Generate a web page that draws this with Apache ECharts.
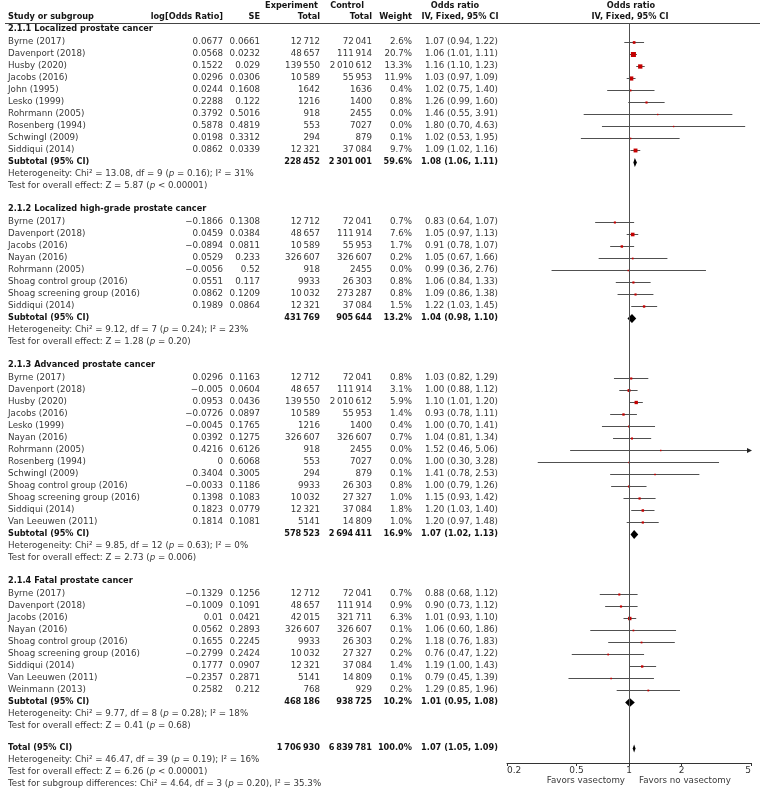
<!DOCTYPE html>
<html><head><meta charset="utf-8">
<script src="https://cdn.jsdelivr.net/npm/echarts@6/dist/echarts.min.js"></script>
<style>html,body{margin:0;padding:0;background:#fff}#c{width:761px;height:794px}</style>
</head><body><div id="c"></div>
<script>
// ---------------- DATA ----------------
const xTicks = [0.2, 0.5, 1, 2, 5];
const favorLabels = ['Favors vasectomy', 'Favors no vasectomy'];
const headerTop = ['Experiment', 'Control', 'Odds ratio', 'Odds ratio'];
const headerBottom = ['Study or subgroup', 'log[Odds Ratio]', 'SE', 'Total', 'Total', 'Weight', 'IV, Fixed, 95% CI', 'IV, Fixed, 95% CI'];

const sec1Title = '2.1.1 Localized prostate cancer';
const sec1Study = ['Byrne (2017)', 'Davenport (2018)', 'Husby (2020)', 'Jacobs (2016)', 'John (1995)', 'Lesko (1999)', 'Rohrmann (2005)', 'Rosenberg (1994)', 'Schwingl (2009)', 'Siddiqui (2014)'];
const sec1LogOR = [0.0677, 0.0568, 0.1522, 0.0296, 0.0244, 0.2288, 0.3792, 0.5878, 0.0198, 0.0862];
const sec1SE = [0.0661, 0.0232, 0.029, 0.0306, 0.1608, 0.122, 0.5016, 0.4819, 0.3312, 0.0339];
const sec1Exp = [12712, 48657, 139550, 10589, 1642, 1216, 918, 553, 294, 12321];
const sec1Ctl = [72041, 111914, 2010612, 55953, 1636, 1400, 2455, 7027, 879, 37084];
const sec1Weight = [2.6, 20.7, 13.3, 11.9, 0.4, 0.8, 0.0, 0.0, 0.1, 9.7];
const sec1OR = [1.07, 1.06, 1.16, 1.03, 1.02, 1.26, 1.46, 1.80, 1.02, 1.09];
const sec1Lower = [0.94, 1.01, 1.10, 0.97, 0.75, 0.99, 0.55, 0.70, 0.53, 1.02];
const sec1Upper = [1.22, 1.11, 1.23, 1.09, 1.40, 1.60, 3.91, 4.63, 1.95, 1.16];
const sec1SubTotals = [228452, 2301001];
const sec1SubWeight = 59.6;
const sec1SubOR = [1.08, 1.06, 1.11];
const sec1Het = 'Heterogeneity: Chi² = 13.08, df = 9 ({i|p} = 0.16); I² = 31%';
const sec1Effect = 'Test for overall effect: Z = 5.87 ({i|p} < 0.00001)';

const sec2Title = '2.1.2 Localized high-grade prostate cancer';
const sec2Study = ['Byrne (2017)', 'Davenport (2018)', 'Jacobs (2016)', 'Nayan (2016)', 'Rohrmann (2005)', 'Shoag control group (2016)', 'Shoag screening group (2016)', 'Siddiqui (2014)'];
const sec2LogOR = [-0.1866, 0.0459, -0.0894, 0.0529, -0.0056, 0.0551, 0.0862, 0.1989];
const sec2SE = [0.1308, 0.0384, 0.0811, 0.233, 0.52, 0.117, 0.1209, 0.0864];
const sec2Exp = [12712, 48657, 10589, 326607, 918, 9933, 10032, 12321];
const sec2Ctl = [72041, 111914, 55953, 326607, 2455, 26303, 273287, 37084];
const sec2Weight = [0.7, 7.6, 1.7, 0.2, 0.0, 0.8, 0.8, 1.5];
const sec2OR = [0.83, 1.05, 0.91, 1.05, 0.99, 1.06, 1.09, 1.22];
const sec2Lower = [0.64, 0.97, 0.78, 0.67, 0.36, 0.84, 0.86, 1.03];
const sec2Upper = [1.07, 1.13, 1.07, 1.66, 2.76, 1.33, 1.38, 1.45];
const sec2SubTotals = [431769, 905644];
const sec2SubWeight = 13.2;
const sec2SubOR = [1.04, 0.98, 1.10];
const sec2Het = 'Heterogeneity: Chi² = 9.12, df = 7 ({i|p} = 0.24); I² = 23%';
const sec2Effect = 'Test for overall effect: Z = 1.28 ({i|p} = 0.20)';

const sec3Title = '2.1.3 Advanced prostate cancer';
const sec3Study = ['Byrne (2017)', 'Davenport (2018)', 'Husby (2020)', 'Jacobs (2016)', 'Lesko (1999)', 'Nayan (2016)', 'Rohrmann (2005)', 'Rosenberg (1994)', 'Schwingl (2009)', 'Shoag control group (2016)', 'Shoag screening group (2016)', 'Siddiqui (2014)', 'Van Leeuwen (2011)'];
const sec3LogOR = [0.0296, -0.005, 0.0953, -0.0726, -0.0045, 0.0392, 0.4216, 0, 0.3404, -0.0033, 0.1398, 0.1823, 0.1814];
const sec3SE = [0.1163, 0.0604, 0.0436, 0.0897, 0.1765, 0.1275, 0.6126, 0.6068, 0.3005, 0.1186, 0.1083, 0.0779, 0.1081];
const sec3Exp = [12712, 48657, 139550, 10589, 1216, 326607, 918, 553, 294, 9933, 10032, 12321, 5141];
const sec3Ctl = [72041, 111914, 2010612, 55953, 1400, 326607, 2455, 7027, 879, 26303, 27327, 37084, 14809];
const sec3Weight = [0.8, 3.1, 5.9, 1.4, 0.4, 0.7, 0.0, 0.0, 0.1, 0.8, 1.0, 1.8, 1.0];
const sec3OR = [1.03, 1.00, 1.10, 0.93, 1.00, 1.04, 1.52, 1.00, 1.41, 1.00, 1.15, 1.20, 1.20];
const sec3Lower = [0.82, 0.88, 1.01, 0.78, 0.70, 0.81, 0.46, 0.30, 0.78, 0.79, 0.93, 1.03, 0.97];
const sec3Upper = [1.29, 1.12, 1.20, 1.11, 1.41, 1.34, 5.06, 3.28, 2.53, 1.26, 1.42, 1.40, 1.48];
const sec3SubTotals = [578523, 2694411];
const sec3SubWeight = 16.9;
const sec3SubOR = [1.07, 1.02, 1.13];
const sec3Het = 'Heterogeneity: Chi² = 9.85, df = 12 ({i|p} = 0.63); I² = 0%';
const sec3Effect = 'Test for overall effect: Z = 2.73 ({i|p} = 0.006)';

const sec4Title = '2.1.4 Fatal prostate cancer';
const sec4Study = ['Byrne (2017)', 'Davenport (2018)', 'Jacobs (2016)', 'Nayan (2016)', 'Shoag control group (2016)', 'Shoag screening group (2016)', 'Siddiqui (2014)', 'Van Leeuwen (2011)', 'Weinmann (2013)'];
const sec4LogOR = [-0.1329, -0.1009, 0.01, 0.0562, 0.1655, -0.2799, 0.1777, -0.2357, 0.2582];
const sec4SE = [0.1256, 0.1091, 0.0421, 0.2893, 0.2245, 0.2424, 0.0907, 0.2871, 0.212];
const sec4Exp = [12712, 48657, 42015, 326607, 9933, 10032, 12321, 5141, 768];
const sec4Ctl = [72041, 111914, 321711, 326607, 26303, 27327, 37084, 14809, 929];
const sec4Weight = [0.7, 0.9, 6.3, 0.1, 0.2, 0.2, 1.4, 0.1, 0.2];
const sec4OR = [0.88, 0.90, 1.01, 1.06, 1.18, 0.76, 1.19, 0.79, 1.29];
const sec4Lower = [0.68, 0.73, 0.93, 0.60, 0.76, 0.47, 1.00, 0.45, 0.85];
const sec4Upper = [1.12, 1.12, 1.10, 1.86, 1.83, 1.22, 1.43, 1.39, 1.96];
const sec4SubTotals = [468186, 938725];
const sec4SubWeight = 10.2;
const sec4SubOR = [1.01, 0.95, 1.08];
const sec4Het = 'Heterogeneity: Chi² = 9.77, df = 8 ({i|p} = 0.28); I² = 18%';
const sec4Effect = 'Test for overall effect: Z = 0.41 ({i|p} = 0.68)';

const totalLabel = 'Total (95% CI)';
const totalTotals = [1706930, 6839781];
const totalWeight = 100.0;
const totalOR = [1.07, 1.05, 1.09];
const totalNotes = [
  'Heterogeneity: Chi² = 46.47, df = 39 ({i|p} = 0.19); I² = 16%',
  'Test for overall effect: Z = 6.26 ({i|p} < 0.00001)',
  'Test for subgroup differences: Chi² = 4.64, df = 3 ({i|p} = 0.20), I² = 35.3%'
];

// ---------------- BUILD ----------------
const sections = [
  {title: sec1Title, study: sec1Study, logOR: sec1LogOR, se: sec1SE, exp: sec1Exp, ctl: sec1Ctl, w: sec1Weight, or: sec1OR, lo: sec1Lower, hi: sec1Upper, subTotals: sec1SubTotals, subW: sec1SubWeight, subOR: sec1SubOR, het: sec1Het, eff: sec1Effect},
  {title: sec2Title, study: sec2Study, logOR: sec2LogOR, se: sec2SE, exp: sec2Exp, ctl: sec2Ctl, w: sec2Weight, or: sec2OR, lo: sec2Lower, hi: sec2Upper, subTotals: sec2SubTotals, subW: sec2SubWeight, subOR: sec2SubOR, het: sec2Het, eff: sec2Effect},
  {title: sec3Title, study: sec3Study, logOR: sec3LogOR, se: sec3SE, exp: sec3Exp, ctl: sec3Ctl, w: sec3Weight, or: sec3OR, lo: sec3Lower, hi: sec3Upper, subTotals: sec3SubTotals, subW: sec3SubWeight, subOR: sec3SubOR, het: sec3Het, eff: sec3Effect},
  {title: sec4Title, study: sec4Study, logOR: sec4LogOR, se: sec4SE, exp: sec4Exp, ctl: sec4Ctl, w: sec4Weight, or: sec4OR, lo: sec4Lower, hi: sec4Upper, subTotals: sec4SubTotals, subW: sec4SubWeight, subOR: sec4SubOR, het: sec4Het, eff: sec4Effect}
];

// row layout in "row units" (one unit = one table line)
const FIRST_OFFSET = 0.5, HEAD_TO_FIRST = 13 / 12, SEC_GAP = 23 / 12, TOTAL_GAP = 22 / 12;
const rows = [];
let u = FIRST_OFFSET;
sections.forEach((s, si) => {
  if (si > 0) u += SEC_GAP;
  rows.push({u, type: 'title', s});
  u += HEAD_TO_FIRST;
  s.study.forEach((n, i) => { rows.push({u, type: 'study', s, i}); u += 1; });
  rows.push({u, type: 'subtotal', s}); u += 1;
  rows.push({u, type: 'note', text: s.het}); u += 1;
  rows.push({u, type: 'note', text: s.eff});
});
u += TOTAL_GAP;
rows.push({u, type: 'total'});
totalNotes.forEach(t => { u += 1; rows.push({u, type: 'note', text: t}); });

const X_MIN = xTicks[0], X_MAX = xTicks[xTicks.length - 1];
const Y_MAX = 740 / 12;

const forestData = [];
rows.forEach(r => {
  if (r.type === 'study') forestData.push([r.s.lo[r.i], r.s.hi[r.i], r.s.or[r.i], r.u, r.s.w[r.i], 0]);
  if (r.type === 'subtotal') forestData.push([r.s.subOR[1], r.s.subOR[2], r.s.subOR[0], r.u, r.s.subW, 1]);
  if (r.type === 'total') forestData.push([totalOR[1], totalOR[2], totalOR[0], r.u, totalWeight, 2]);
});

const RED = '#c40000', LINE = '#505050', TXT = '#383838', BTXT = '#151515';
const FONT = '"DejaVu Sans", sans-serif';
const NSZ = 8.7, BSZ = 8.2;

function renderItem(params, api) {
  const lo = api.value(0), hi = api.value(1), est = api.value(2), uu = api.value(3), w = api.value(4), kind = api.value(5);
  const pL = api.coord([Math.max(lo, X_MIN), uu]);
  const pH = api.coord([Math.min(hi, X_MAX), uu]);
  const pE = api.coord([est, uu]);
  const y = Math.round(pE[1]) + 0.5;
  if (kind > 0) {
    const h = kind === 1 ? 4.5 : 4;
    return {type: 'polygon', shape: {points: [[pL[0], y], [pE[0], y - h], [pH[0], y], [pE[0], y + h]]}, style: {fill: '#000'}};
  }
  const children = [{type: 'line', shape: {x1: pL[0], y1: y, x2: pH[0], y2: y}, style: {stroke: LINE, lineWidth: 1}}];
  if (hi > X_MAX) {
    children.push({type: 'polygon', shape: {points: [[pH[0] + 1, y], [pH[0] - 4, y - 2.5], [pH[0] - 4, y + 2.5]]}, style: {fill: '#222'}});
  }
  const s = 1.4 + Math.sqrt(w) * 0.8;
  children.push({type: 'rect', shape: {x: pE[0] - s / 2, y: y - s / 2, width: s, height: s}, style: {fill: RED}});
  return {type: 'group', children};
}

const chart = echarts.init(document.getElementById('c'), null, {width: 761, height: 794});
chart.setOption({
  animation: false,
  backgroundColor: '#fff',
  grid: {left: 507, width: 244, top: 23, height: 740, containLabel: false},
  xAxis: {
    type: 'log', logBase: 10, min: X_MIN, max: X_MAX, position: 'bottom',
    axisLine: {show: true, onZero: false, lineStyle: {color: '#333', width: 1}},
    axisTick: {show: true, length: 3, customValues: xTicks, lineStyle: {color: '#333'}},
    axisLabel: {show: true, customValues: xTicks, margin: 3, fontSize: 9, fontFamily: FONT, color: '#333',
      alignMinLabel: 'left', alignMaxLabel: 'right', showMinLabel: true, showMaxLabel: true,
      formatter: v => String(+v.toPrecision(3))},
    splitLine: {show: false}, minorTick: {show: false}
  },
  yAxis: {type: 'value', min: 0, max: Y_MAX, inverse: true, show: false, splitLine: {show: false}},
  series: [{
    type: 'custom', renderItem, data: forestData, encode: {x: [0, 1, 2], y: 3}, clip: false, z: 3,
    markLine: {silent: true, symbol: 'none', label: {show: false}, animation: false,
      lineStyle: {color: '#505050', width: 1, type: 'solid'}, data: [{xAxis: 1}]}
  }]
});

// text table
function grp(n) {
  const s = String(n);
  if (n < 10000) return s;
  return s.replace(/\B(?=(\d{3})+(?!\d))/g, '\u2009');
}
function num(v) { return String(v).replace('-', '\u2212'); }
function ci(a) { return a[0].toFixed(2) + ' (' + a[1].toFixed(2) + ', ' + a[2].toFixed(2) + ')'; }
function text(t, x, y, align, bold, size) {
  const sz = size || (bold ? BSZ : NSZ);
  const font = (bold ? 'bold ' : '') + sz + 'px ' + FONT;
  return {type: 'text', silent: true, z: 10, style: {
    text: t, x, y, font, fill: bold ? BTXT : TXT,
    align, textAlign: align, verticalAlign: 'middle', textVerticalAlign: 'middle',
    rich: {i: {font: 'italic ' + sz + 'px ' + FONT, fill: TXT}}
  }};
}
const COL = {study: 8, logOR: 223, se: 260, exp: 320, ctl: 372, weight: 412, ci: 498};
const py = v => chart.convertToPixel({yAxisIndex: 0}, v);
const px = v => chart.convertToPixel({xAxisIndex: 0}, v);
const g = [];
// headers
g.push(text(headerTop[0], 318, 6, 'right', true));
g.push(text(headerTop[1], 364, 6, 'right', true));
g.push(text(headerTop[2], 455, 6, 'center', true));
g.push(text(headerTop[3], 631, 6, 'center', true));
g.push(text(headerBottom[0], COL.study, 17, 'left', true));
g.push(text(headerBottom[1], COL.logOR, 17, 'right', true));
g.push(text(headerBottom[2], COL.se, 17, 'right', true));
g.push(text(headerBottom[3], COL.exp, 17, 'right', true));
g.push(text(headerBottom[4], COL.ctl, 17, 'right', true));
g.push(text(headerBottom[5], COL.weight, 17, 'right', true));
g.push(text(headerBottom[6], 460, 17, 'center', true));
g.push(text(headerBottom[7], 630, 17, 'center', true));
g.push({type: 'line', silent: true, shape: {x1: 5, y1: 23.5, x2: 760, y2: 23.5}, style: {stroke: '#444', lineWidth: 1.2}});

rows.forEach(r => {
  const y = Math.round(py(r.u));
  if (r.type === 'title') g.push(text(r.s.title, COL.study, y, 'left', true));
  else if (r.type === 'study') {
    const s = r.s, i = r.i;
    g.push(text(s.study[i], COL.study, y, 'left', false));
    g.push(text(num(s.logOR[i]), COL.logOR, y, 'right', false));
    g.push(text(num(s.se[i]), COL.se, y, 'right', false));
    g.push(text(grp(s.exp[i]), COL.exp, y, 'right', false));
    g.push(text(grp(s.ctl[i]), COL.ctl, y, 'right', false));
    g.push(text(s.w[i].toFixed(1) + '%', COL.weight, y, 'right', false));
    g.push(text(ci([s.or[i], s.lo[i], s.hi[i]]), COL.ci, y, 'right', false));
  } else if (r.type === 'subtotal' || r.type === 'total') {
    const isT = r.type === 'total';
    const tot = isT ? totalTotals : r.s.subTotals;
    g.push(text(isT ? totalLabel : 'Subtotal (95% CI)', COL.study, y, 'left', true));
    g.push(text(grp(tot[0]), COL.exp, y, 'right', true));
    g.push(text(grp(tot[1]), COL.ctl, y, 'right', true));
    g.push(text((isT ? totalWeight : r.s.subW).toFixed(1) + '%', COL.weight, y, 'right', true));
    g.push(text(ci(isT ? totalOR : r.s.subOR), COL.ci, y, 'right', true));
  } else if (r.type === 'note') {
    g.push(text(r.text, COL.study, y, 'left', false));
  }
});
const x1 = px(1);
g.push(text(favorLabels[0], x1 - 4, 781, 'right', false));
g.push(text(favorLabels[1], x1 + 10, 781, 'left', false));
chart.setOption({graphic: {elements: g}});
</script>
</body></html>
